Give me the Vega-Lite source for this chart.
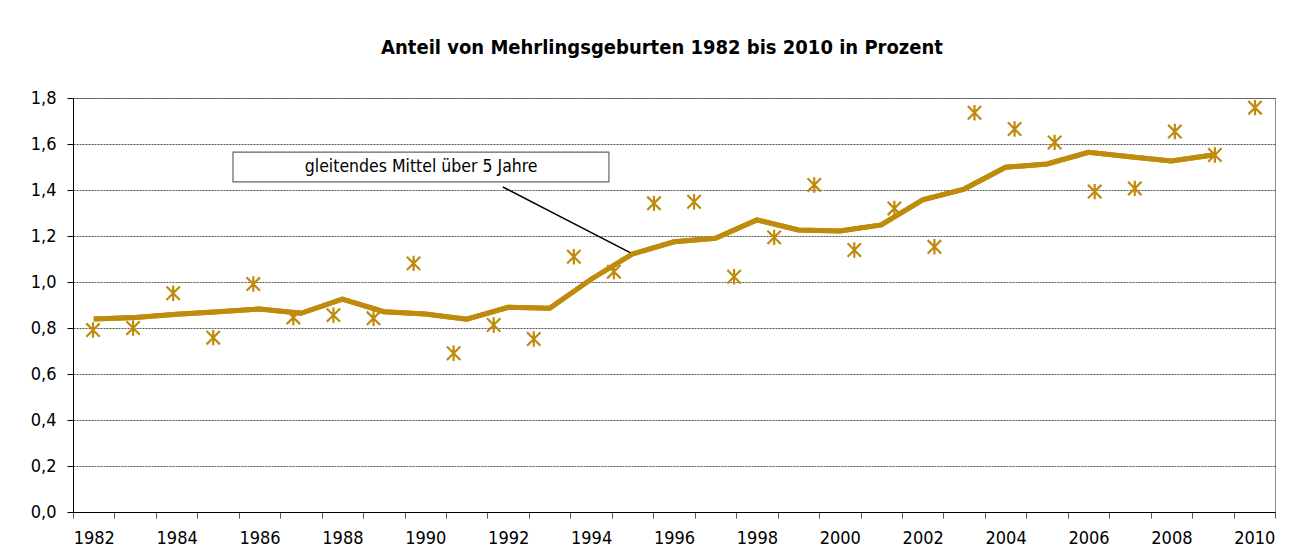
{
  "$schema": "https://vega.github.io/schema/vega-lite/v6.json",
  "width": 1202,
  "height": 414,
  "autosize": {"type": "none"},
  "padding": {"left": 73, "top": 98, "right": 23, "bottom": 43},
  "background": "white",
  "title": {
    "text": "Anteil von Mehrlingsgeburten 1982 bis 2010 in Prozent",
    "font": "DejaVu Sans Condensed, Liberation Sans Narrow, Arial Narrow",
    "fontSize": 20,
    "fontWeight": "bold",
    "color": "#000000",
    "offset": 31,
    "dx": -12
  },
  "config": {
    "view": {"stroke": "#8c8c8c", "strokeWidth": 1},
    "axis": {
      "labelFont": "DejaVu Sans Condensed, Liberation Sans Narrow, Arial Narrow",
      "labelFontSize": 18,
      "labelColor": "#000000",
      "title": null
    }
  },
  "datasets": {
    "mittel": [
      {"Jahr": 1982, "Wert": 0.839},
      {"Jahr": 1983, "Wert": 0.846},
      {"Jahr": 1984, "Wert": 0.86},
      {"Jahr": 1985, "Wert": 0.871},
      {"Jahr": 1986, "Wert": 0.883},
      {"Jahr": 1987, "Wert": 0.864},
      {"Jahr": 1988, "Wert": 0.926},
      {"Jahr": 1989, "Wert": 0.871},
      {"Jahr": 1990, "Wert": 0.861},
      {"Jahr": 1991, "Wert": 0.838},
      {"Jahr": 1992, "Wert": 0.89},
      {"Jahr": 1993, "Wert": 0.886},
      {"Jahr": 1994, "Wert": 1.012},
      {"Jahr": 1995, "Wert": 1.122},
      {"Jahr": 1996, "Wert": 1.175},
      {"Jahr": 1997, "Wert": 1.19},
      {"Jahr": 1998, "Wert": 1.27},
      {"Jahr": 1999, "Wert": 1.226},
      {"Jahr": 2000, "Wert": 1.222},
      {"Jahr": 2001, "Wert": 1.248},
      {"Jahr": 2002, "Wert": 1.357},
      {"Jahr": 2003, "Wert": 1.404},
      {"Jahr": 2004, "Wert": 1.499},
      {"Jahr": 2005, "Wert": 1.513},
      {"Jahr": 2006, "Wert": 1.564},
      {"Jahr": 2007, "Wert": 1.545},
      {"Jahr": 2008, "Wert": 1.526},
      {"Jahr": 2009, "Wert": 1.552}
    ],
    "anteil": [
      {"Jahr": 1981, "Wert": 0.791},
      {"Jahr": 1982, "Wert": 0.80},
      {"Jahr": 1983, "Wert": 0.951},
      {"Jahr": 1984, "Wert": 0.758},
      {"Jahr": 1985, "Wert": 0.991},
      {"Jahr": 1986, "Wert": 0.846},
      {"Jahr": 1987, "Wert": 0.856},
      {"Jahr": 1988, "Wert": 0.842},
      {"Jahr": 1989, "Wert": 1.081},
      {"Jahr": 1990, "Wert": 0.69},
      {"Jahr": 1991, "Wert": 0.813},
      {"Jahr": 1992, "Wert": 0.752},
      {"Jahr": 1993, "Wert": 1.11},
      {"Jahr": 1994, "Wert": 1.045},
      {"Jahr": 1995, "Wert": 1.342},
      {"Jahr": 1996, "Wert": 1.349},
      {"Jahr": 1997, "Wert": 1.023},
      {"Jahr": 1998, "Wert": 1.194},
      {"Jahr": 1999, "Wert": 1.422},
      {"Jahr": 2000, "Wert": 1.139},
      {"Jahr": 2001, "Wert": 1.32},
      {"Jahr": 2002, "Wert": 1.153},
      {"Jahr": 2003, "Wert": 1.736},
      {"Jahr": 2004, "Wert": 1.665},
      {"Jahr": 2005, "Wert": 1.607},
      {"Jahr": 2006, "Wert": 1.393},
      {"Jahr": 2007, "Wert": 1.407},
      {"Jahr": 2008, "Wert": 1.654},
      {"Jahr": 2009, "Wert": 1.552},
      {"Jahr": 2010, "Wert": 1.758}
    ],
    "hinweis": [
      {"x1": 1985.36, "x2": 1994.43, "y1": 1.565, "y2": 1.435, "xt": 1989.9, "yt": 1.50, "lx1": 1991.87, "ly1": 1.413, "lx2": 1995.0, "ly2": 1.122, "text": "gleitendes Mittel über 5 Jahre"}
    ]
  },
  "layer": [
    {
      "data": {"name": "mittel"},
      "mark": {"type": "line", "color": "#BF8B0C", "strokeWidth": 5, "strokeJoin": "miter"},
      "encoding": {
        "x": {
          "field": "Jahr",
          "type": "ordinal",
          "bandPosition": 0.5,
          "scale": {
            "type": "band",
            "paddingInner": 0,
            "paddingOuter": 0,
            "domain": [1982,1983,1984,1985,1986,1987,1988,1989,1990,1991,1992,1993,1994,1995,1996,1997,1998,1999,2000,2001,2002,2003,2004,2005,2006,2007,2008,2009,2010]
          },
          "axis": {
            "tickBand": "extent",
            "labelExpr": "datum.value % 2 == 0 ? datum.label : ''",
            "labelOverlap": false,
            "labelAngle": 0,
            "tickSize": 6,
            "tickColor": "#555555",
            "domainColor": "#000000",
            "labelPadding": 11,
            "grid": false
          }
        },
        "y": {
          "field": "Wert",
          "type": "quantitative",
          "scale": {"domain": [0, 1.8], "nice": false, "zero": true},
          "axis": {
            "values": [0, 0.2, 0.4, 0.6, 0.8, 1.0, 1.2, 1.4, 1.6, 1.8],
            "labelExpr": "replace(format(datum.value, '.1f'), '.', ',')",
            "tickSize": 6,
            "tickColor": "#000000",
            "domainColor": "#000000",
            "labelPadding": 11,
            "grid": true,
            "gridColor": "#555555",
            "gridDash": [2, 1],
            "gridWidth": 1
          }
        }
      }
    },
    {
      "data": {"name": "hinweis"},
      "mark": {"type": "rect", "fill": "white", "stroke": "#666666", "strokeWidth": 1.2},
      "encoding": {
        "x": {"field": "x1", "type": "quantitative", "scale": {"domain": [1981.5, 2010.5], "nice": false, "zero": false}, "axis": null},
        "x2": {"field": "x2"},
        "y": {"field": "y1", "type": "quantitative"},
        "y2": {"field": "y2"}
      }
    },
    {
      "data": {"name": "hinweis"},
      "mark": {"type": "text", "font": "DejaVu Sans Condensed, Liberation Sans Narrow, Arial Narrow", "fontSize": 17.5, "color": "#000000", "align": "center", "baseline": "middle"},
      "encoding": {
        "x": {"field": "xt", "type": "quantitative", "scale": {"domain": [1981.5, 2010.5], "nice": false, "zero": false}, "axis": null},
        "y": {"field": "yt", "type": "quantitative"},
        "text": {"field": "text"}
      }
    },
    {
      "data": {"name": "hinweis"},
      "mark": {"type": "rule", "color": "#000000", "strokeWidth": 1.5},
      "encoding": {
        "x": {"field": "lx1", "type": "quantitative", "scale": {"domain": [1981.5, 2010.5], "nice": false, "zero": false}, "axis": null},
        "x2": {"field": "lx2"},
        "y": {"field": "ly1", "type": "quantitative"},
        "y2": {"field": "ly2"}
      }
    },
    {
      "data": {"name": "mittel"},
      "mark": {"type": "line", "color": "#BF8B0C", "strokeWidth": 5, "strokeJoin": "miter"},
      "encoding": {
        "x": {
          "field": "Jahr",
          "type": "ordinal",
          "bandPosition": 0.5,
          "scale": {
            "type": "band",
            "paddingInner": 0,
            "paddingOuter": 0,
            "domain": [1982,1983,1984,1985,1986,1987,1988,1989,1990,1991,1992,1993,1994,1995,1996,1997,1998,1999,2000,2001,2002,2003,2004,2005,2006,2007,2008,2009,2010]
          },
          "axis": null
        },
        "y": {"field": "Wert", "type": "quantitative"}
      }
    },
    {
      "data": {"name": "anteil"},
      "mark": {"type": "point", "shape": "M-1,-1L1,1M-1,1L1,-1M0,-1.15L0,1.15", "filled": false, "stroke": "#BF8B0C", "strokeWidth": 2.2, "size": 180, "opacity": 1},
      "encoding": {
        "x": {
          "field": "Jahr",
          "type": "ordinal",
          "scale": {"type": "point", "padding": 0.5},
          "axis": null
        },
        "y": {"field": "Wert", "type": "quantitative"}
      }
    }
  ],
  "resolve": {"scale": {"x": "independent"}, "axis": {"x": "independent"}}
}
